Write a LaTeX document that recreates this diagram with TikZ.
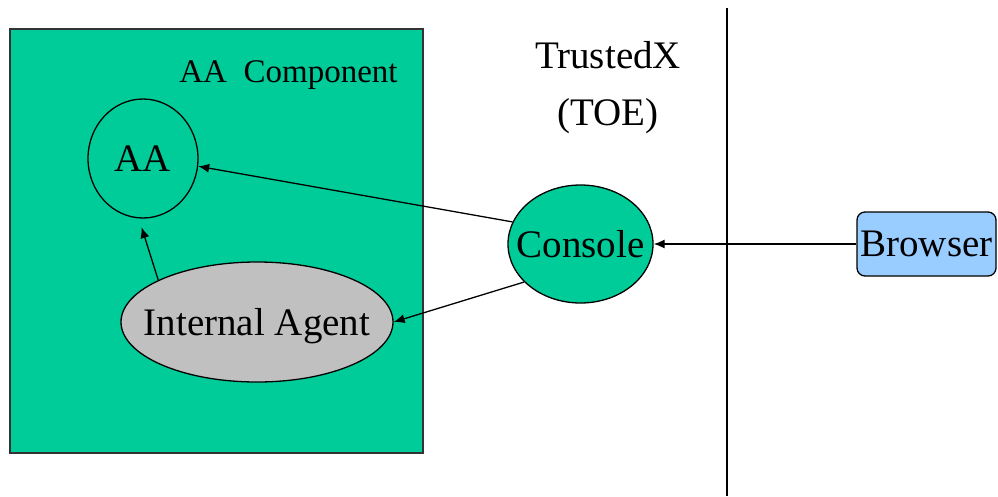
\documentclass[tikz,border=0pt]{standalone}
\usepackage{fontspec}
\setmainfont{Liberation Serif}
\usetikzlibrary{arrows.meta}
\usetikzlibrary{shapes.geometric}
\usetikzlibrary{positioning}
\definecolor{aagreen}{HTML}{00CC99}
\definecolor{agentgrey}{HTML}{C0C0C0}
\definecolor{browserblue}{HTML}{99CCFF}
\definecolor{framegrey}{HTML}{333333}

\begin{document}
\begin{tikzpicture}[
	x=1pt, y=-1pt, line width=1.3pt,
  > = {Latex[length=11pt,width=9pt]},
  big/.style = {font=\fontsize{39}{57}\selectfont},
  blob/.style = {draw,ellipse,inner sep=0pt},
  inside/.style = {label={[big,text depth=0pt]center:#1}},
  frame/.style = {draw=framegrey,fill=aagreen,inner sep=0pt}
  ]
	\useasboundingbox (0,0) rectangle (998,496);

	% AA component frame and the TOE border
	\node[frame,minimum width=413pt,minimum height=424pt] (comp) at (216.5,241) {};
	\node[font=\fontsize{33}{40}\selectfont,anchor=base] (complabel) at (288.5,82) {AA\ \ Component};
	\draw[line width=1.1pt] (727,8) -- (727,496);
	\node[big,align=center] (toe) at (608,88) {TrustedX\\(TOE)};

	\node[blob,fill=aagreen,minimum width=110pt,minimum height=119pt,inside=AA] (aa) at (143,158.5) {};
	\node[blob,fill=agentgrey,minimum width=272pt,minimum height=120pt,inside=Internal Agent] (agent) at (257,322) {};
	\node[blob,fill=aagreen,minimum width=145pt,minimum height=118pt,inside=Console] (console) at (580.5,244) {};
	\node[draw,fill=browserblue,rounded corners=8pt,inner sep=0pt,text depth=0pt,big,
		minimum width=139pt,minimum height=64pt] (browser) at (926.5,244) {Browser};

	\draw[->] (console.162) 	-- (aa.-8);
	\draw[->] (console.214) 	-- (agent.east);
	\draw[->,shorten >=9pt] (agent.157) -- (aa.266);
	\draw[->] (browser.west) 	-- (console.east);

\end{tikzpicture}
\end{document}
